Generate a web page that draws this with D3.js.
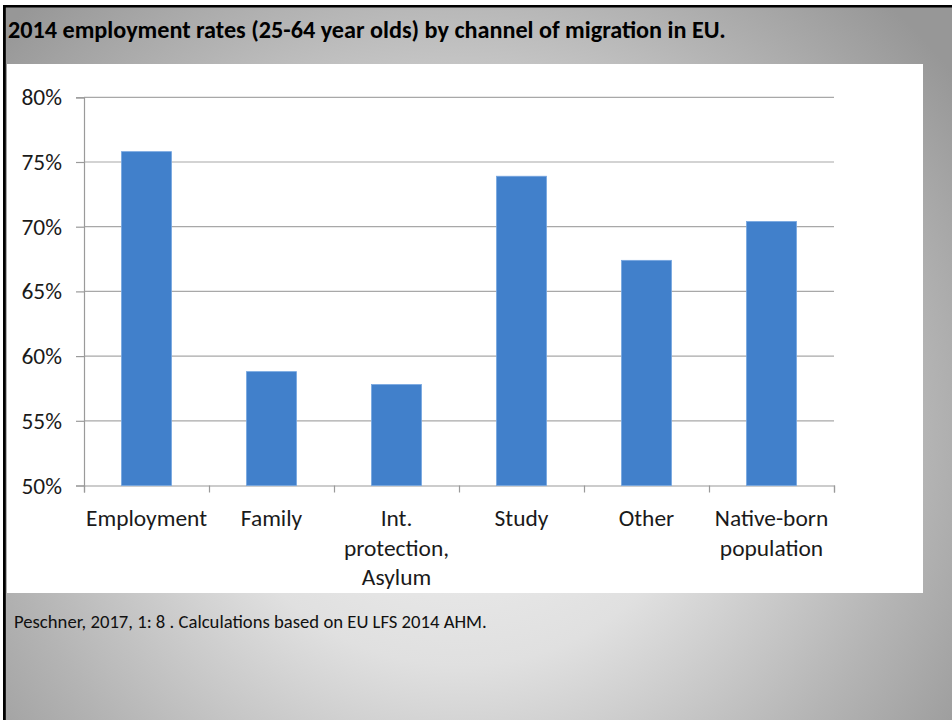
<!DOCTYPE html>
<html>
<head>
<meta charset="utf-8">
<script src="https://cdn.jsdelivr.net/npm/d3@7"></script>
<style>
  html, body { margin: 0; padding: 0; background: #fff; }
  svg { display: block; }
</style>
</head>
<body>
<svg id="slide" width="952" height="720"></svg>
<script>
// Employment rates of 25-64 year olds by channel of migration, EU 2014
const categories = ["Employment", "Family", "Int. protection, Asylum", "Study", "Other", "Native-born population"];
const categoryLines = [["Employment"], ["Family"], ["Int.", "protection,", "Asylum"], ["Study"], ["Other"], ["Native-born", "population"]];
const rates = [75.8, 58.8, 57.8, 73.9, 67.4, 70.4];
const yTicks = [50, 55, 60, 65, 70, 75, 80];
const titleText = "2014 employment rates (25-64 year olds) by channel of migration in EU.";
const sourceText = "Peschner, 2017, 1: 8 . Calculations based on EU LFS 2014 AHM.";

const FONT = "Carlito, Calibri, Lato, 'Open Sans', sans-serif";
const svg = d3.select("#slide");

// Scale text so it spans a given width
function fitWidth(sel, target) {
  const w = sel.node().getComputedTextLength();
  const fs = parseFloat(sel.attr("font-size"));
  const nfs = fs * target / w;
  sel.attr("font-size", nfs);
  return nfs;
}

// slide background
const defs = svg.append("defs");
const grad = defs.append("radialGradient")
  .attr("id", "bg")
  .attr("gradientUnits", "userSpaceOnUse")
  .attr("cx", 460).attr("cy", 430).attr("r", 620)
  .attr("gradientTransform", "translate(460,430) scale(1,0.95) translate(-460,-430)");
grad.append("stop").attr("offset", 0).attr("stop-color", "#f2f2f2");
grad.append("stop").attr("offset", 0.4).attr("stop-color", "#e0e0e0");
grad.append("stop").attr("offset", 0.75).attr("stop-color", "#b4b4b4");
grad.append("stop").attr("offset", 1).attr("stop-color", "#979797");

svg.append("rect").attr("width", 952).attr("height", 720).attr("fill", "url(#bg)");
svg.append("rect").attr("x", 0).attr("y", 0).attr("width", 952).attr("height", 5).attr("fill", "#ffffff");
svg.append("rect").attr("x", 0).attr("y", 0).attr("width", 3).attr("height", 720).attr("fill", "#ffffff");
// frame lines
svg.append("rect").attr("x", 3).attr("y", 5).attr("width", 949).attr("height", 2.5).attr("fill", "#000");
svg.append("rect").attr("x", 3).attr("y", 5).attr("width", 2.8).attr("height", 715).attr("fill", "#000");

// title
const title = svg.append("text")
  .attr("x", 8).attr("y", 38)
  .attr("font-family", FONT).attr("font-weight", 700)
  .attr("font-size", 18).attr("fill", "#000")
  .text(titleText);
fitWidth(title, 718);

// chart panel
svg.append("rect").attr("x", 7).attr("y", 64).attr("width", 916).attr("height", 529).attr("fill", "#fff");

const plot = { left: 84, right: 834, top: 97.3, bottom: 485.5 };

const y = d3.scaleLinear().domain([50, 80]).range([plot.bottom, plot.top]);
const x = d3.scaleBand().domain(categories).range([plot.left, plot.right])
  .paddingInner(0.6).paddingOuter(0.3);
const xEdge = d3.scaleLinear().domain([0, categories.length]).range([plot.left, plot.right]);

// gridlines
svg.append("g")
  .selectAll("line")
  .data(yTicks.filter(d => d !== 50))
  .join("line")
  .attr("x1", plot.left).attr("x2", plot.right)
  .attr("y1", d => y(d)).attr("y2", d => y(d))
  .attr("stroke", "#a8a8a8").attr("stroke-width", 1.2);

// y axis
const yAxis = svg.append("g")
  .attr("transform", `translate(${plot.left},0)`)
  .call(d3.axisLeft(y).tickValues(yTicks).tickFormat(d => d + "%").tickSize(8).tickPadding(14));
yAxis.select(".domain").attr("stroke", "#9a9a9a").attr("stroke-width", 1.2);
yAxis.selectAll(".tick line").attr("stroke", "#9a9a9a").attr("stroke-width", 1.2);
yAxis.selectAll(".tick text")
  .attr("font-family", FONT).attr("font-size", 22).attr("fill", "#1a1a1a");

// x axis with ticks at category edges
const xAxis = svg.append("g")
  .attr("transform", `translate(0,${plot.bottom})`)
  .call(d3.axisBottom(xEdge).tickValues(d3.range(categories.length + 1)).tickFormat("").tickSize(7).tickSizeOuter(7));
xAxis.select(".domain").attr("stroke", "#9a9a9a").attr("stroke-width", 1.2);
xAxis.selectAll(".tick line").attr("stroke", "#9a9a9a").attr("stroke-width", 1.2);

// bars
svg.append("g")
  .selectAll("rect")
  .data(categories.map((c, i) => ({ c, v: rates[i] })))
  .join("rect")
  .attr("x", d => x(d.c))
  .attr("width", x.bandwidth())
  .attr("y", d => y(d.v))
  .attr("height", d => y(50) - y(d.v))
  .attr("fill", "#4180cb")
  .attr("stroke", "#76a6e0").attr("stroke-width", 0.8);

// category labels
const labels = svg.append("g")
  .selectAll("text")
  .data(categories.map((c, i) => ({ c, lines: categoryLines[i] })))
  .join("text")
  .attr("text-anchor", "middle")
  .attr("font-family", FONT).attr("font-size", 22).attr("fill", "#1a1a1a")
  .attr("transform", d => `translate(${x(d.c) + x.bandwidth() / 2},526)`);
labels.selectAll("tspan")
  .data(d => d.lines)
  .join("tspan")
  .attr("x", 0)
  .attr("y", (d, i) => i * 29.5)
  .text(d => d);

// size axis text so "Employment" spans its measured width
const empSpan = labels.filter(d => d.c === "Employment").select("tspan");
const w0 = empSpan.node().getComputedTextLength();
const axisFs = 22 * 121 / w0;
labels.attr("font-size", axisFs);
yAxis.selectAll(".tick text").attr("font-size", axisFs);

// source note
const source = svg.append("text")
  .attr("x", 14).attr("y", 628)
  .attr("font-family", FONT).attr("font-size", 16).attr("fill", "#111")
  .text(sourceText);
fitWidth(source, 473);
</script>
</body>
</html>
